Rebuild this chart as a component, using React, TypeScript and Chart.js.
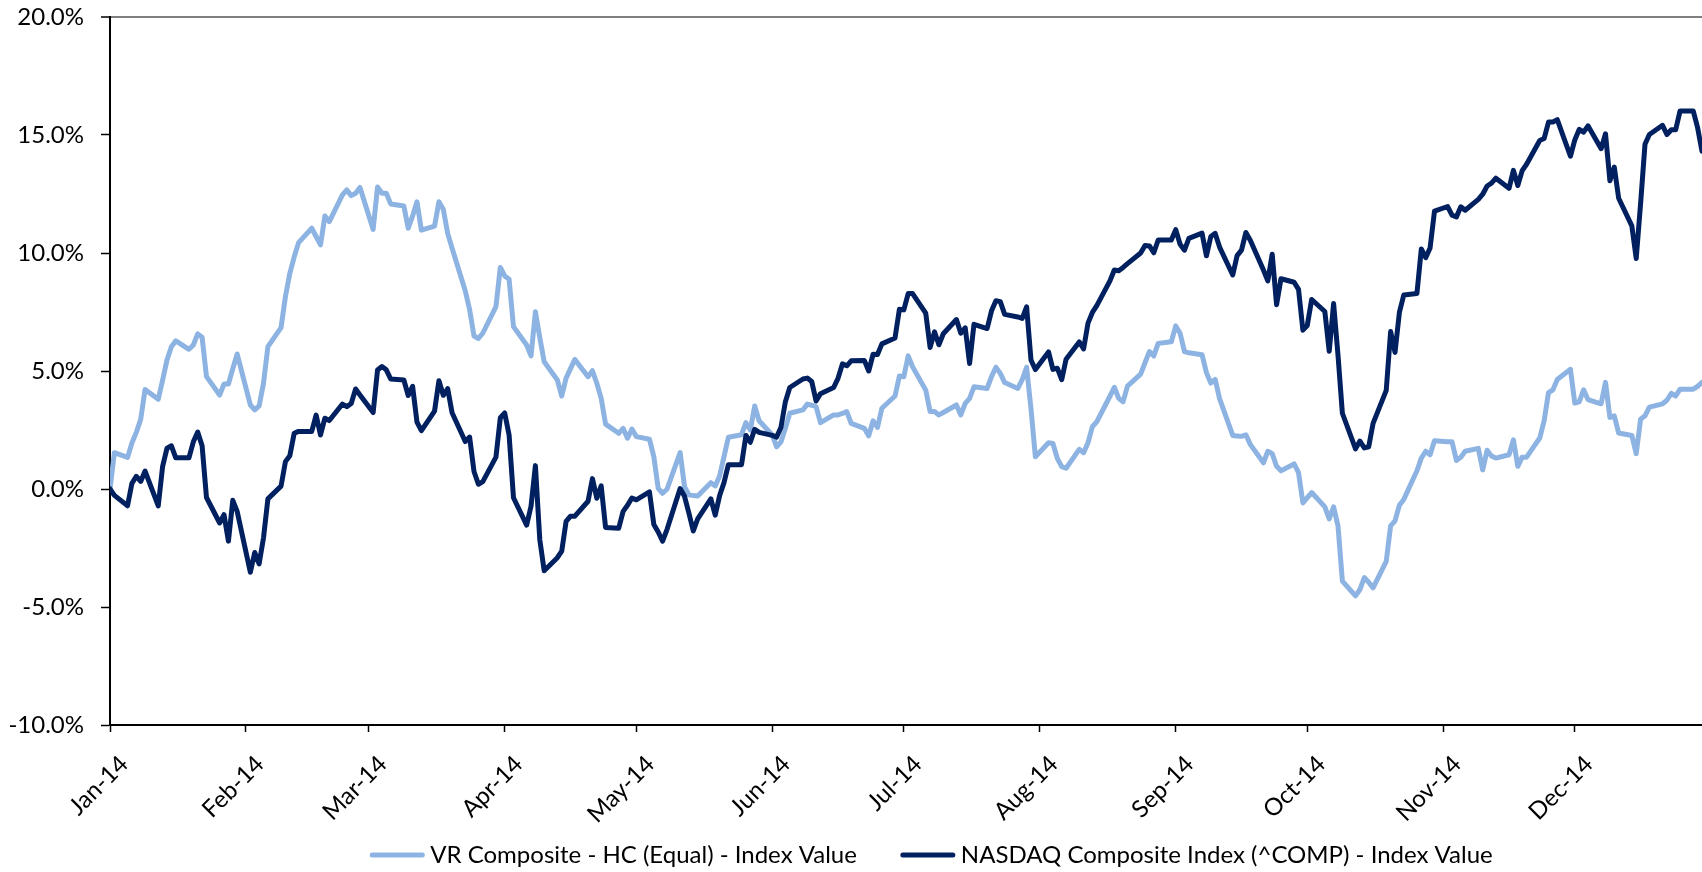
import { useEffect, useRef } from 'react';
import { Chart, registerables } from 'chart.js';

Chart.register(...registerables);

// ---- Data -------------------------------------------------------------
// Daily observations: every weekday from 2 Jan 2014 to 31 Dec 2014.
const FIRST_DATE = '2014-01-02';
const LAST_DATE = '2014-12-31';

const tickDates = [
  '2014-01-02', '2014-02-02', '2014-03-02', '2014-04-02', '2014-05-02', '2014-06-02',
  '2014-07-02', '2014-08-02', '2014-09-02', '2014-10-02', '2014-11-02', '2014-12-02',
];
const tickLabels = [
  'Jan-14', 'Feb-14', 'Mar-14', 'Apr-14', 'May-14', 'Jun-14',
  'Jul-14', 'Aug-14', 'Sep-14', 'Oct-14', 'Nov-14', 'Dec-14',
];

const seriesLabels = [
  'VR Composite - HC (Equal) - Index Value',
  'NASDAQ Composite Index (^COMP) - Index Value',
];

// percent change since start, one value per weekday
const vrValues = [
  // Jan
  0.00, 1.54, 1.34, 1.95, 2.40, 2.95, 4.22, 3.80, 4.62, 5.47, 6.03, 6.28, 5.92, 6.10, 6.57, 6.43, 4.76, 3.98, 4.45, 4.45, 5.10, 5.72,
  // Feb
  3.56, 3.35, 3.52, 4.48, 6.03, 6.84, 8.15, 9.14, 9.84, 10.44, 11.05, 10.70, 10.34, 11.57, 11.33, 12.46, 12.67, 12.43, 12.53, 12.78,
  // Mar
  11.00, 12.80, 12.53, 12.53, 12.08, 11.99, 11.05, 11.57, 12.17, 10.97, 11.14, 12.17, 11.85, 10.83, 10.20, 8.40, 7.60, 6.48, 6.38, 6.60, 7.73,
  // Apr
  9.39, 9.03, 8.89, 6.88, 6.10, 5.64, 7.51, 6.41, 5.39, 4.62, 3.94, 4.70, 5.10, 5.49, 4.76, 5.01, 4.48, 3.84, 2.75, 2.36, 2.57, 2.15,
  // May
  2.54, 2.22, 2.11, 1.37, 0.03, -0.18, -0.01, 1.54, 0.10, -0.25, -0.28, -0.30, 0.27, 0.13, 0.55, 1.37, 2.19, 2.30, 2.81, 2.50, 3.52, 2.89,
  // Jun
  2.29, 1.79, 2.00, 2.57, 3.21, 3.35, 3.60, 3.55, 3.49, 2.81, 3.14, 3.14, 3.20, 3.28, 2.78, 2.57, 2.25, 2.89, 2.61, 3.42, 3.94,
  // Jul
  4.79, 4.76, 5.64, 5.18, 4.19, 3.28, 3.28, 3.14, 3.24, 3.56, 3.14, 3.63, 3.84, 4.33, 4.26, 4.76, 5.16, 4.90, 4.51, 4.26, 4.63, 5.16, 3.40,
  // Aug
  1.37, 1.96, 1.93, 1.30, 0.95, 0.88, 1.68, 1.54, 1.96, 2.64, 2.85, 3.93, 4.31, 3.84, 3.70, 4.36, 4.87, 5.35, 5.82, 5.64, 6.17,
  // Sep
  6.24, 6.91, 6.60, 5.82, 5.77, 5.69, 4.93, 4.49, 4.64, 3.83, 2.27, 2.25, 2.23, 2.30, 1.89, 1.11, 1.60, 1.50, 0.96, 0.77, 1.06, 0.69,
  // Oct
  -0.59, -0.37, -0.15, -0.76, -1.27, -0.76, -1.56, -3.90, -4.53, -4.26, -3.75, -3.95, -4.19, -3.07, -1.56, -1.35, -0.69, -0.44, 0.77, 1.31, 1.60, 1.45, 2.04,
  // Nov
  2.00, 2.00, 1.21, 1.35, 1.60, 1.72, 0.81, 1.64, 1.40, 1.31, 1.45, 2.08, 0.96, 1.35, 1.35, 2.16, 2.89, 4.08, 4.20, 4.64,
  // Dec
  5.07, 3.64, 3.69, 4.20, 3.79, 3.61, 4.52, 3.03, 3.10, 2.37, 2.27, 1.50, 2.96, 3.10, 3.47, 3.61, 3.76, 4.05, 3.94, 4.23, 4.23, 4.35, 4.52,
];

const nasdaqValues = [
  // Jan
  0.00, -0.27, -0.71, 0.24, 0.54, 0.32, 0.76, -0.72, 0.96, 1.73, 1.83, 1.32, 1.32, 2.00, 2.41, 1.83, -0.36, -1.44, -1.09, -2.21, -0.48, -0.95,
  // Feb
  -3.53, -2.69, -3.17, -2.07, -0.42, 0.12, 1.16, 1.41, 2.36, 2.44, 2.44, 3.13, 2.29, 3.00, 2.90, 3.60, 3.49, 3.62, 4.24, 3.98,
  // Mar
  3.24, 5.04, 5.19, 5.05, 4.66, 4.62, 3.96, 4.35, 2.83, 2.47, 3.30, 4.59, 3.97, 4.25, 3.23, 2.01, 2.20, 0.74, 0.20, 0.31, 1.35,
  // Apr
  3.02, 3.22, 2.29, -0.37, -1.53, -0.73, 0.99, -2.15, -3.46, -2.91, -2.63, -1.37, -1.15, -1.15, -0.52, 0.44, -0.39, 0.13, -1.63, -1.66, -0.95, -0.69,
  // May
  -0.38, -0.46, -0.12, -1.50, -1.82, -2.21, -1.72, 0.02, -0.31, -1.02, -1.78, -1.27, -0.42, -1.11, -0.28, 0.27, 1.03, 1.03, 2.27, 1.98, 2.53, 2.40,
  // Jun
  2.27, 2.20, 2.62, 3.70, 4.30, 4.66, 4.70, 4.56, 3.73, 4.04, 4.30, 4.69, 5.30, 5.22, 5.43, 5.45, 5.00, 5.71, 5.70, 6.15, 6.40,
  // Jul
  7.62, 7.59, 8.28, 8.28, 7.45, 6.00, 6.66, 6.11, 6.58, 7.18, 6.60, 6.83, 5.32, 6.98, 6.80, 7.55, 7.98, 7.94, 7.40, 7.29, 7.23, 7.72, 5.47,
  // Aug
  5.06, 5.81, 5.07, 5.12, 4.63, 5.50, 6.23, 5.94, 7.03, 7.48, 7.77, 8.82, 9.28, 9.25, 9.39, 9.55, 10.00, 10.32, 10.30, 10.01, 10.55,
  // Sep
  10.55, 10.99, 10.37, 10.12, 10.62, 10.84, 9.88, 10.70, 10.83, 10.25, 9.07, 9.89, 10.12, 10.87, 10.54, 9.28, 8.82, 9.95, 7.81, 8.91, 8.76, 8.46,
  // Oct
  6.73, 6.93, 8.03, 7.52, 5.84, 7.86, 5.68, 3.21, 1.70, 2.03, 1.74, 1.79, 2.78, 4.18, 6.67, 5.79, 7.48, 8.22, 8.28, 10.17, 9.80, 10.21, 11.77,
  // Nov
  11.97, 11.60, 11.53, 11.96, 11.81, 12.27, 12.49, 12.84, 12.96, 13.17, 12.74, 13.50, 12.86, 13.49, 13.76, 14.77, 14.85, 15.55, 15.55, 15.65,
  // Dec
  14.10, 14.79, 15.24, 15.12, 15.39, 14.42, 15.05, 13.06, 13.64, 12.32, 11.15, 9.77, 12.10, 14.61, 15.02, 15.41, 15.02, 15.22, 15.22, 16.02, 16.02, 15.31, 14.31,
];

const yTicks = { min: -10, max: 20, step: 5 };

// ---- Helpers ------------------------------------------------------------
const DAY_MS = 86400000;
const YEAR_START = Date.parse('2014-01-01T00:00:00Z');
const dayOfYear = (iso: string) => Math.round((Date.parse(iso + 'T00:00:00Z') - YEAR_START) / DAY_MS);

function weekdayDays(): number[] {
  const out: number[] = [];
  for (let d = dayOfYear(FIRST_DATE); d <= dayOfYear(LAST_DATE); d++) {
    const wd = new Date(YEAR_START + d * DAY_MS).getUTCDay();
    if (wd !== 0 && wd !== 6) out.push(d);
  }
  return out;
}

const FONT = 'Lato, "Open Sans", sans-serif';
const FONT_SIZE = 24;
const COLORS = ['#8DB3E2', '#002060'];

const bottomLegend = {
  id: 'bottomLegend',
  afterDraw(chart: any) {
    const ctx = chart.ctx as CanvasRenderingContext2D;
    ctx.save();
    ctx.font = `${FONT_SIZE}px ${FONT}`;
    const lineLen = 54;
    const gapLT = 6;
    const gapItems = 44;
    const items = chart.data.datasets.map((ds: any) => ({
      label: ds.label as string,
      color: ds.borderColor as string,
      w: ctx.measureText(ds.label).width,
    }));
    const total =
      items.reduce((s: number, it: any) => s + lineLen + gapLT + it.w, 0) + gapItems * (items.length - 1);
    let x = 931.5 - total / 2;
    const y = 855;
    for (const it of items) {
      ctx.strokeStyle = it.color;
      ctx.lineWidth = 5;
      ctx.lineCap = 'round';
      ctx.beginPath();
      ctx.moveTo(x + 2, y);
      ctx.lineTo(x + lineLen - 2, y);
      ctx.stroke();
      ctx.fillStyle = '#000';
      ctx.textAlign = 'left';
      ctx.textBaseline = 'middle';
      ctx.fillText(it.label, x + lineLen + gapLT, y);
      x += lineLen + gapLT + it.w + gapItems;
    }
    ctx.restore();
  },
};

export default function App() {
  const ref = useRef<HTMLCanvasElement>(null);

  useEffect(() => {
    document.body.style.margin = '0';
    const days = weekdayDays();
    const toPoints = (vals: number[]) => vals.map((v, i) => ({ x: days[i], y: v }));
    const tickValues = tickDates.map(dayOfYear);

    const chart = new Chart(ref.current as HTMLCanvasElement, {
      type: 'line',
      data: {
        datasets: [
          {
            label: seriesLabels[0],
            data: toPoints(vrValues),
            borderColor: COLORS[0],
            backgroundColor: COLORS[0],
            borderWidth: 5,
            pointRadius: 0,
            tension: 0,
            borderJoinStyle: 'round',
            borderCapStyle: 'round',
            order: 1,
          },
          {
            label: seriesLabels[1],
            data: toPoints(nasdaqValues),
            borderColor: COLORS[1],
            backgroundColor: COLORS[1],
            borderWidth: 5,
            pointRadius: 0,
            tension: 0,
            borderJoinStyle: 'round',
            borderCapStyle: 'round',
            order: 0,
          },
        ],
      },
      options: {
        responsive: false,
        animation: false,
        devicePixelRatio: 1,
        layout: { padding: { top: 17, left: 0, right: 0, bottom: 0 } },
        plugins: {
          legend: { display: false },
          tooltip: { enabled: false },
        },
        scales: {
          x: {
            type: 'linear',
            min: dayOfYear(FIRST_DATE),
            max: dayOfYear(LAST_DATE),
            afterBuildTicks: (scale: any) => {
              scale.ticks = tickValues.map((value) => ({ value }));
            },
            afterFit: (scale: any) => {
              scale.height = 147;
            },
            grid: {
              drawOnChartArea: false,
              drawTicks: true,
              tickLength: 7,
              tickColor: '#000',
              tickWidth: 1.5,
            },
            border: { display: true, color: '#000', width: 2 },
            ticks: {
              autoSkip: false,
              minRotation: 45,
              maxRotation: 45,
              padding: 18,
              labelOffset: 14,
              color: '#000',
              font: { family: FONT, size: FONT_SIZE },
              callback: (_v: any, i: number) => tickLabels[i],
            },
          },
          y: {
            type: 'linear',
            min: yTicks.min,
            max: yTicks.max,
            afterFit: (scale: any) => {
              scale.width = 110;
              scale.paddingTop = 0;
              scale.paddingBottom = 0;
            },
            grid: {
              color: (c: any) => (c.tick && c.tick.value === yTicks.max ? '#7F7F7F' : 'rgba(0,0,0,0)'),
              lineWidth: (c: any) => (c.tick && c.tick.value === yTicks.max ? 2 : 1),
              drawTicks: true,
              tickLength: 9,
              tickColor: '#000',
              tickWidth: 1.5,
            },
            border: { display: true, color: '#000', width: 2 },
            ticks: {
              stepSize: yTicks.step,
              padding: 17,
              color: '#000',
              font: { family: FONT, size: FONT_SIZE },
              callback: (v: any) => Number(v).toFixed(1) + '%',
            },
          },
        },
      },
      plugins: [bottomLegend],
    } as any);

    return () => chart.destroy();
  }, []);

  return (
    <div style={{ position: 'fixed', left: 0, top: 0, width: 1702, height: 872, background: '#fff' }}>
      <canvas ref={ref} width={1702} height={872} style={{ display: 'block', width: 1702, height: 872 }} />
    </div>
  );
}
